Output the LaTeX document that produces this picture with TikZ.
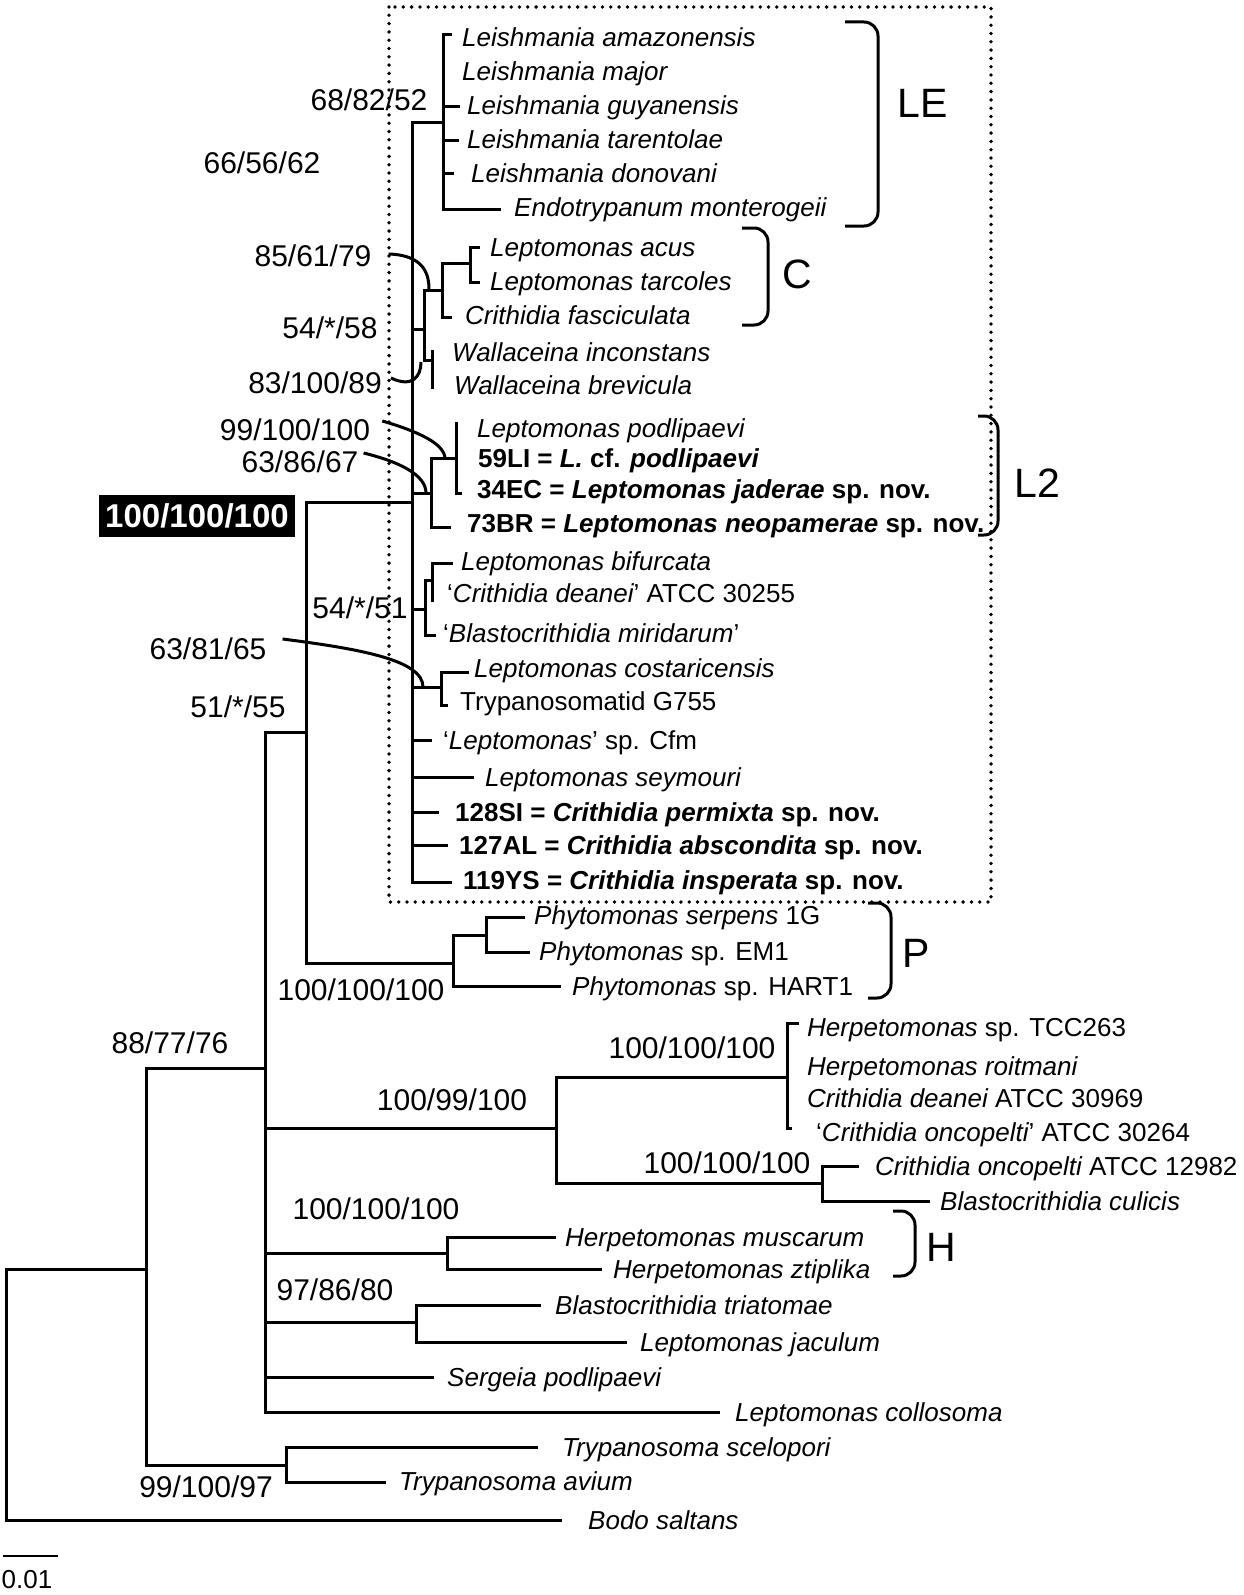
\documentclass[tikz,border=0pt]{standalone}
\usepackage{fontspec}
\setmainfont{Liberation Sans}
\newcommand\LeafLabel[4]{\node[leaf] (#1) at (#2,#3+9.3) {#4};}
\newcommand\SupLabel[4]{\node[sup] (#1) at (#2,#3+10.7) {#4};}
\begin{document}
\begin{tikzpicture}[x=1pt,y=-1pt,
  br/.style={line width=3pt,line cap=rect},
  lead/.style={line width=3pt},
  brk/.style={line width=3pt,rounded corners=14pt},
  dotbox/.style={line width=3.8pt,line cap=round,dash pattern=on 0pt off 8.3pt},
  leaf/.style={anchor=base west,inner sep=0pt,font=\fontsize{26}{30}\selectfont\itshape},
  sup/.style={anchor=base,inner sep=0pt,font=\fontsize{30}{34}\selectfont},
  clade/.style={anchor=base,inner sep=0pt,font=\fontsize{41}{46}\selectfont},
]
\useasboundingbox (0,0) rectangle (1243,1595);
% dotted box
\draw[dotbox] (389,7) rectangle (991,902);
% ---------- tree ----------
% root
\draw[br] (6,1269) -- (6,1520);
\draw[br] (6,1269) -- (146,1269);
\draw[br] (6,1520) -- (560,1520);
% node A
\draw[br] (146,1068) -- (146,1465);
\draw[br] (146,1068) -- (265,1068);
\draw[br] (146,1465) -- (286,1465);
% Trypanosoma
\draw[br] (286,1447) -- (286,1482);
\draw[br] (286,1447) -- (536,1447);
\draw[br] (286,1482) -- (384,1482);
% node B
\draw[br] (265,732) -- (265,1412);
\draw[br] (265,732) -- (306,732);
\draw[br] (265,1128) -- (556,1128);
\draw[br] (265,1253) -- (447,1253);
\draw[br] (265,1322) -- (416,1322);
\draw[br] (265,1377) -- (432,1377);
\draw[br] (265,1412) -- (718,1412);
% node C
\draw[br] (306,502) -- (306,963);
\draw[br] (306,502) -- (412,502);
\draw[br] (306,963) -- (453,963);
% P
\draw[br] (453,935) -- (453,986);
\draw[br] (453,935) -- (486,935);
\draw[br] (453,986) -- (559,986);
\draw[br] (486,917) -- (486,952);
\draw[br] (486,917) -- (523,917);
\draw[br] (486,952) -- (528,952);
% D
\draw[br] (556,1077) -- (556,1183);
\draw[br] (556,1077) -- (787,1077);
\draw[br] (556,1183) -- (822,1183);
\draw[br] (787,1023) -- (787,1128);
\draw[br] (787,1023) -- (797,1023);
\draw[br] (787,1128) -- (790,1128);
\draw[br] (822,1166) -- (822,1201);
\draw[br] (822,1166) -- (857,1166);
\draw[br] (822,1201) -- (928,1201);
% H
\draw[br] (447,1237) -- (447,1269);
\draw[br] (447,1237) -- (554,1237);
\draw[br] (447,1269) -- (600,1269);
% 97
\draw[br] (416,1305) -- (416,1342);
\draw[br] (416,1305) -- (539,1305);
\draw[br] (416,1342) -- (625,1342);
% main vertical M
\draw[br] (412,122) -- (412,882);
\draw[br] (412,122) -- (443,122);
\draw[br] (412,329) -- (424,329);
\draw[br] (412,493) -- (431,493);
\draw[br] (412,609) -- (425,609);
\draw[br] (412,687) -- (441,687);
\draw[br] (412,740) -- (430,740);
\draw[br] (412,777) -- (472,777);
\draw[br] (412,812) -- (437,812);
\draw[br] (412,845) -- (446,845);
\draw[br] (412,882) -- (450,882);
% LE
\draw[br] (443,35) -- (443,209);
\draw[br] (443,35) -- (450,35);
\draw[br] (443,106) -- (458,106);
\draw[br] (443,140) -- (457,140);
\draw[br] (443,173) -- (452,173);
\draw[br] (443,209) -- (499,209);
% C and W
\draw[br] (424,290) -- (424,360);
\draw[br] (424,290) -- (442,290);
\draw[br] (424,360) -- (432,360);
\draw[br] (442,263) -- (442,317);
\draw[br] (442,263) -- (470,263);
\draw[br] (442,317) -- (450,317);
\draw[br] (470,247) -- (470,282);
\draw[br] (470,247) -- (478,247);
\draw[br] (470,282) -- (478,282);
\draw[br] (432,351) -- (432,387);
% L2
\draw[br] (431,458) -- (431,527);
\draw[br] (431,458) -- (456,458);
\draw[br] (431,527) -- (449,527);
\draw[br] (456,423) -- (456,493);
\draw[br] (456,493) -- (460,493);
% 54/*/51
\draw[br] (425,580) -- (425,635);
\draw[br] (425,580) -- (432,580);
\draw[br] (425,635) -- (434,635);
\draw[br] (432,563) -- (432,600);
\draw[br] (432,563) -- (451,563);
% 63/81/65
\draw[br] (441,672) -- (441,705);
\draw[br] (441,672) -- (467,672);
\draw[br] (441,705) -- (446,705);
% ---------- leaf labels ----------
\LeafLabel{l1}{462}{37}{Leishmania amazonensis}
\LeafLabel{l2}{462}{71}{Leishmania major}
\LeafLabel{l3}{467}{105}{Leishmania guyanensis}
\LeafLabel{l4}{467}{139}{Leishmania tarentolae}
\LeafLabel{l5}{471}{173}{Leishmania donovani}
\LeafLabel{l6}{514}{207}{Endotrypanum monterogeii}
\LeafLabel{l7}{490}{247}{Leptomonas acus}
\LeafLabel{l8}{490}{281}{Leptomonas tarcoles}
\LeafLabel{l9}{465}{315}{Crithidia fasciculata}
\LeafLabel{l10}{452}{352}{Wallaceina inconstans}
\LeafLabel{l11}{454}{385}{Wallaceina brevicula}
\LeafLabel{l12}{477}{428}{Leptomonas podlipaevi}
\LeafLabel{l13}{478}{458}{\bfseries\upshape 59LI = \itshape L.\upshape\ cf. \itshape podlipaevi}
\LeafLabel{l14}{477}{489}{\bfseries\upshape 34EC = \itshape Leptomonas jaderae\upshape\ sp. nov.}
\LeafLabel{l15}{467}{523}{\bfseries\upshape 73BR = \itshape Leptomonas neopamerae\upshape\ sp. nov.}
\LeafLabel{l16}{461}{561}{Leptomonas bifurcata}
\LeafLabel{l17}{447}{593}{\upshape‘\itshape Crithidia deanei\upshape’ ATCC 30255}
\LeafLabel{l18}{443}{633}{\upshape‘\itshape Blastocrithidia miridarum\upshape’}
\LeafLabel{l19}{474}{668}{Leptomonas costaricensis}
\LeafLabel{l20}{460}{701}{\upshape Trypanosomatid G755}
\LeafLabel{l21}{443}{740}{\upshape‘\itshape Leptomonas\upshape’ sp. Cfm}
\LeafLabel{l22}{485}{777}{Leptomonas seymouri}
\LeafLabel{l23}{455}{812}{\bfseries\upshape 128SI = \itshape Crithidia permixta\upshape\ sp. nov.}
\LeafLabel{l24}{459}{845}{\bfseries\upshape 127AL = \itshape Crithidia abscondita\upshape\ sp. nov.}
\LeafLabel{l25}{463}{880}{\bfseries\upshape 119YS = \itshape Crithidia insperata\upshape\ sp. nov.}
\LeafLabel{l26}{534}{915}{Phytomonas serpens\upshape\ 1G}
\LeafLabel{l27}{539}{951}{Phytomonas\upshape\ sp. EM1}
\LeafLabel{l28}{572}{986}{Phytomonas\upshape\ sp. HART1}
\LeafLabel{l29}{807}{1027}{Herpetomonas\upshape\ sp. TCC263}
\LeafLabel{l30}{807}{1066}{Herpetomonas roitmani}
\LeafLabel{l31}{807}{1098}{Crithidia deanei\upshape\ ATCC 30969}
\LeafLabel{l32}{816}{1132}{\upshape‘\itshape Crithidia oncopelti\upshape’ ATCC 30264}
\LeafLabel{l33}{875}{1166}{Crithidia oncopelti\upshape\ ATCC 12982}
\LeafLabel{l34}{940}{1201}{Blastocrithidia culicis}
\LeafLabel{l35}{565}{1237}{Herpetomonas muscarum}
\LeafLabel{l36}{613}{1269}{Herpetomonas ztiplika}
\LeafLabel{l37}{555}{1305}{Blastocrithidia triatomae}
\LeafLabel{l38}{640}{1342}{Leptomonas jaculum}
\LeafLabel{l39}{447}{1377}{Sergeia podlipaevi}
\LeafLabel{l40}{735}{1412}{Leptomonas collosoma}
\LeafLabel{l41}{562}{1447}{Trypanosoma scelopori}
\LeafLabel{l42}{399}{1481}{Trypanosoma avium}
\LeafLabel{l43}{588}{1520}{Bodo saltans}
% ---------- support values ----------
\SupLabel{s1}{369}{100}{68/82/52}
\SupLabel{s2}{262}{163}{66/56/62}
\SupLabel{s3}{313}{256}{85/61/79}
\SupLabel{s4}{330}{328}{54/*/58}
\SupLabel{s5}{315}{383}{83/100/89}
\SupLabel{s6}{295}{430}{99/100/100}
\SupLabel{s7}{300}{462}{63/86/67}
\SupLabel{s9}{360}{608}{54/*/51}
\SupLabel{s10}{208}{649}{63/81/65}
\SupLabel{s11}{238}{707}{51/*/55}
\SupLabel{s12}{361}{990}{100/100/100}
\SupLabel{s13}{692}{1048}{100/100/100}
\SupLabel{s14}{452}{1100}{100/99/100}
\SupLabel{s15}{727}{1163}{100/100/100}
\SupLabel{s16}{376}{1209}{100/100/100}
\SupLabel{s17}{335}{1290}{97/86/80}
\SupLabel{s18}{170}{1043}{88/77/76}
\SupLabel{s19}{206}{1487}{99/100/97}
\node[fill=black,text=white,inner xsep=6pt,inner ysep=0pt,minimum height=42pt,
  font=\fontsize{33}{36}\selectfont\bfseries] (s8) at (197,516) {100/100/100};
% ---------- leader curves ----------
\draw[lead] (s3.east) ++(17,-2) .. controls (418,255) and (429,268) .. (429,289);
\draw[lead] (s5.east) ++(9,-5) .. controls (412,388) and (421,377) .. (421,362);
\draw[lead] (s6.east) ++(12,-9) .. controls (420,432) and (444,444) .. (445,458);
\draw[lead] (s7.east) ++(5,-9) .. controls (400,462) and (426,475) .. (426,493);
\draw[lead] (s10.east) ++(16,-10) .. controls (360,649) and (423,660) .. (423,687);
% ---------- clade brackets ----------
\draw[brk] (845,22) -- (878,22) -- (878,226) -- (845,226);
\draw[brk] (742,228) -- (768,228) -- (768,325) -- (742,325);
\draw[brk] (978,416) -- (998,416) -- (998,535) -- (978,535);
\draw[brk] (868,903) -- (891,903) -- (891,998) -- (868,998);
\draw[brk] (893,1211) -- (915,1211) -- (915,1276) -- (893,1276);
\node[clade] (cLE) at (923,103+14.7) {LE};
\node[clade] (cC) at (797,274+14.7) {C};
\node[clade] (cL2) at (1037,483+14.7) {L2};
\node[clade] (cP) at (916,953+14.7) {P};
\node[clade] (cH) at (941,1247+14.7) {H};
% ---------- scale bar ----------
\coordinate (sbL) at (3,1556);
\coordinate (sbR) at (58,1556);
\draw[line width=2pt] (sbL) -- (sbR);
\node[anchor=base,inner sep=0pt,font=\fontsize{26}{30}\selectfont] (sbt) at (27,1588) {0.01};
\end{tikzpicture}
\end{document}
